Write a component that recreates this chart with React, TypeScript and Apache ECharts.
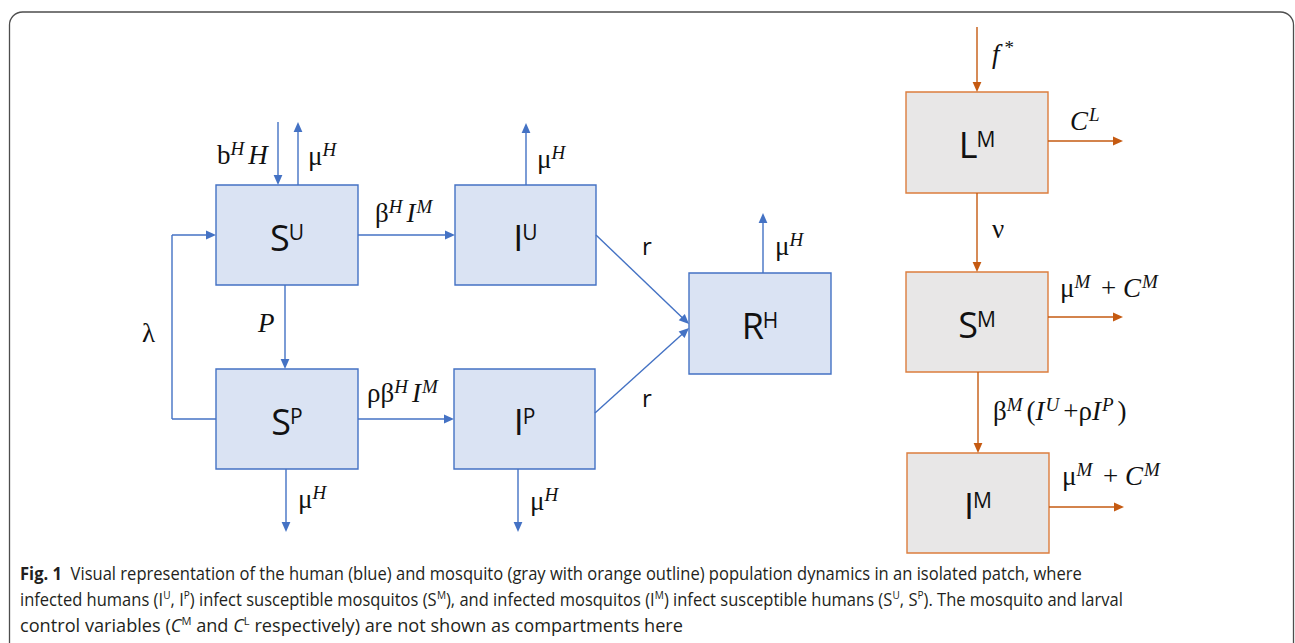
import React, { useEffect, useRef } from "react";
import * as echarts from "echarts";

// ---------------- Diagram data ----------------
// Compartments (boxes)
const compartmentNames = ["S", "I", "S", "I", "R", "L", "S", "I"];
const compartmentSups = ["U", "U", "P", "P", "H", "M", "M", "M"];
const compartmentKinds = ["human", "human", "human", "human", "human", "mosquito", "mosquito", "mosquito"];
// compartment extents in diagram units
const boxLeft = [216, 455, 216, 454, 689, 906, 906, 907];
const boxTop = [185, 185, 369, 369, 273, 92, 272, 453];
const boxRight = [358, 596, 358, 595, 831, 1048, 1048, 1049];
const boxBottom = [285, 285, 469, 469, 374, 193, 372, 553];

// Flows (arrow segments) in diagram units
const flowKinds = [
  "human", "human", "human", "human", "human", "human", "human", "human", "human", "human",
  "human", "human", "human", "human",
  "mosquito", "mosquito", "mosquito", "mosquito", "mosquito", "mosquito",
];
const flowFrom = [
  [278, 122], [298, 185], [358, 235], [526, 185], [216, 419], [172, 419], [172, 235],
  [285, 285], [358, 419], [286, 469], [518, 469], [596, 235], [595, 413], [763, 273],
  [977, 27], [1048, 141], [977, 193], [1048, 317], [978, 372], [1049, 507],
];
const flowTo = [
  [278, 185], [298, 122], [455, 235], [526, 123], [172, 419], [172, 235], [216, 235],
  [285, 369], [454, 419], [286, 532], [518, 532], [689, 324], [689, 328], [763, 213],
  [977, 92], [1123, 141], [977, 272], [1123, 317], [978, 453], [1124, 507],
];
const flowHead = [1, 1, 1, 1, 0, 0, 1, 1, 1, 1, 1, 1, 1, 1, 1, 1, 1, 1, 1, 1];

// Rate labels: tokens [text, kind]; r upright, i italic, j italic (wide kern), R upright sup, I italic sup, s sans
type Tok = [string, string];
const rateLabels: Tok[][] = [
  [["b", "r"], ["H", "I"], ["H", "i"]],
  [["μ", "r"], ["H", "I"]],
  [["β", "r"], ["H", "I"], ["I", "i"], ["M", "I"]],
  [["μ", "r"], ["H", "I"]],
  [["λ", "r"]],
  [["P", "i"]],
  [["ρβ", "r"], ["H", "I"], ["I", "i"], ["M", "I"]],
  [["μ", "r"], ["H", "I"]],
  [["μ", "r"], ["H", "I"]],
  [["r", "s"]],
  [["r", "s"]],
  [["μ", "r"], ["H", "I"]],
  [["f", "j"], ["*", "R"]],
  [["C", "i"], ["L", "I"]],
  [["ν", "r"]],
  [["μ", "r"], ["M", "I"], [" + ", "r"], ["C", "i"], ["M", "I"]],
  [["β", "r"], ["M", "I"], ["(", "r"], ["I", "i"], ["U", "I"], ["+ρ", "r"], ["I", "i"], ["P", "I"], [")", "r"]],
  [["μ", "r"], ["M", "I"], [" + ", "r"], ["C", "i"], ["M", "I"]],
];
// label anchor: left x, baseline y (diagram units)
const rateLabelAnchors = [
  [217, 164], [308, 165], [375, 222], [537, 168], [142, 342], [258, 332], [367, 402],
  [298, 508], [530, 510], [642, 255], [642, 407], [775, 255], [992, 63], [1070, 130],
  [992, 238], [1060, 297], [993, 420], [1062, 485],
];

// Caption
const captionLines: Tok[][] = [
  [["Fig. 1", "b"], ["  Visual representation of the human (blue) and mosquito (gray with orange outline) population dynamics in an isolated patch, where", "n"]],
  [
    ["infected humans (I", "n"], ["U", "S"], [", I", "n"], ["P", "S"], [") infect susceptible mosquitos (S", "n"], ["M", "S"],
    ["), and infected mosquitos (I", "n"], ["M", "S"], [") infect susceptible humans (S", "n"], ["U", "S"], [", S", "n"], ["P", "S"],
    ["). The mosquito and larval", "n"],
  ],
  [
    ["control variables (", "n"], ["C", "it"], ["M", "S"], [" and ", "n"], ["C", "it"], ["L", "S"],
    [" respectively) are not shown as compartments here", "n"],
  ],
];
const captionLineWidths = [1063, 1103, 663];

// ---------------- Styles ----------------
const COLORS: Record<string, { fill: string; stroke: string; arrow: string }> = {
  human: { fill: "#dae3f3", stroke: "#4472c4", arrow: "#4472c4" },
  mosquito: { fill: "#e8e7e7", stroke: "#dc7d3e", arrow: "#c55a11" },
};
const MATH = "Liberation Serif";
const SANS = "Open Sans";
const K: Record<string, number> = { [MATH]: 0.338, [SANS]: 0.388 };

type TS = { family: string; size: number; italic?: boolean; bold?: boolean; raise: number; after?: number };
const rateStyles: Record<string, TS> = {
  r: { family: MATH, size: 27, raise: 0 },
  i: { family: MATH, size: 27, italic: true, raise: 0, after: 1 },
  j: { family: MATH, size: 27, italic: true, raise: 0, after: 5 },
  R: { family: MATH, size: 19, raise: 9, after: 3 },
  I: { family: MATH, size: 19, italic: true, raise: 9, after: 4 },
  s: { family: SANS, size: 24, raise: 0 },
};
const boxStyles: Record<string, TS> = {
  m: { family: SANS, size: 36, raise: 0, after: -1 },
  p: { family: SANS, size: 21, raise: 11 },
};
const captionStyles: Record<string, TS> = {
  n: { family: SANS, size: 18, raise: 0 },
  b: { family: SANS, size: 18, bold: true, raise: 0 },
  it: { family: SANS, size: 18, italic: true, raise: 0 },
  S: { family: SANS, size: 11, raise: 7 },
};

let measureCtx: CanvasRenderingContext2D | null = null;
function fontString(st: TS) {
  return `${st.italic ? "italic " : ""}${st.bold ? "bold " : ""}${st.size}px "${st.family}"`;
}
function textWidth(text: string, st: TS) {
  if (!measureCtx) measureCtx = document.createElement("canvas").getContext("2d");
  measureCtx!.font = fontString(st);
  return measureCtx!.measureText(text).width;
}
function tokensWidth(tokens: Tok[], styles: Record<string, TS>) {
  let w = 0;
  tokens.forEach(([t, k], i) => {
    const st = styles[k];
    w += textWidth(t, st) + (i < tokens.length - 1 ? st.after || 0 : 0);
  });
  return w;
}
function layoutTokens(tokens: Tok[], styles: Record<string, TS>, x0: number, baseline: number, color: string) {
  let x = x0;
  const out: any[] = [];
  tokens.forEach(([t, k]) => {
    const st = styles[k];
    out.push({
      type: "text",
      x,
      y: baseline - st.raise - K[st.family] * st.size,
      silent: true,
      style: {
        text: t,
        fontFamily: st.family,
        fontSize: st.size,
        fontStyle: st.italic ? "italic" : "normal",
        fontWeight: st.bold ? "bold" : "normal",
        fill: color,
        align: "left",
        textAlign: "left",
        verticalAlign: "middle",
        textVerticalAlign: "middle",
      },
    });
    x += textWidth(t, st) + (st.after || 0);
  });
  return out;
}

export default function App() {
  const ref = useRef<HTMLDivElement>(null);
  useEffect(() => {
    document.body.style.margin = "0";
    const chart = echarts.init(ref.current!, null, { renderer: "svg" });

    const boxData = compartmentNames.map((_, i) => [boxLeft[i], boxTop[i], boxRight[i], boxBottom[i]]);
    const flowData = flowFrom.map((f, i) => [f[0], f[1], flowTo[i][0], flowTo[i][1], flowHead[i]]);
    const labelData = rateLabelAnchors.map((a) => [a[0], a[1]]);

    const captionGraphics: any[] = captionLines.map((line, li) => {
      const w = tokensWidth(line, captionStyles);
      const sx = captionLineWidths[li] / w;
      return {
        type: "group",
        x: 20,
        y: 580 + li * 26,
        scaleX: sx,
        silent: true,
        children: layoutTokens(line, captionStyles, 0, 0, "#231f20"),
      };
    });

    const option: any = {
      animation: false,
      backgroundColor: "#ffffff",
      grid: { left: 0, right: 0, top: 0, bottom: 0, containLabel: false },
      xAxis: { type: "value", min: 0, max: 1295, show: false },
      yAxis: { type: "value", min: 0, max: 643, inverse: true, show: false },
      tooltip: { show: false },
      graphic: [
        {
          type: "rect",
          silent: true,
          shape: { x: 9.5, y: 12, width: 1284, height: 720, r: 13 },
          style: { fill: "none", stroke: "#4d4d4d", lineWidth: 1.3 },
        },
        ...captionGraphics,
      ],
      series: [
        {
          type: "custom",
          name: "compartments",
          coordinateSystem: "cartesian2d",
          clip: false,
          silent: true,
          encode: { x: [0, 2], y: [1, 3] },
          data: boxData,
          renderItem: (params: any, api: any) => {
            const i = params.dataIndex;
            const p0 = api.coord([api.value(0), api.value(1)]);
            const p1 = api.coord([api.value(2), api.value(3)]);
            const c = COLORS[compartmentKinds[i]];
            const toks: Tok[] = [[compartmentNames[i], "m"], [compartmentSups[i], "p"]];
            const w = tokensWidth(toks, boxStyles);
            const cx = (p0[0] + p1[0]) / 2;
            const cy = (p0[1] + p1[1]) / 2;
            return {
              type: "group",
              children: [
                {
                  type: "rect",
                  shape: { x: p0[0], y: p0[1], width: p1[0] - p0[0], height: p1[1] - p0[1] },
                  style: { fill: c.fill, stroke: c.stroke, lineWidth: 1.4 },
                },
                ...layoutTokens(toks, boxStyles, cx - w / 2, cy + 16, "#111111"),
              ],
            };
          },
        },
        {
          type: "custom",
          name: "flows",
          coordinateSystem: "cartesian2d",
          clip: false,
          silent: true,
          encode: { x: [0, 2], y: [1, 3] },
          data: flowData,
          renderItem: (params: any, api: any) => {
            const i = params.dataIndex;
            const a = api.coord([api.value(0), api.value(1)]);
            const b = api.coord([api.value(2), api.value(3)]);
            const head = api.value(4) === 1;
            const color = COLORS[flowKinds[i]].arrow;
            const dx = b[0] - a[0];
            const dy = b[1] - a[1];
            const len = Math.hypot(dx, dy) || 1;
            const ux = dx / len;
            const uy = dy / len;
            const L = 10;
            const hw = 4.4;
            const endX = head ? b[0] - ux * L * 0.7 : b[0];
            const endY = head ? b[1] - uy * L * 0.7 : b[1];
            const children: any[] = [
              {
                type: "line",
                shape: { x1: a[0], y1: a[1], x2: endX, y2: endY },
                style: { stroke: color, lineWidth: 1.4 },
              },
            ];
            if (head) {
              const bx = b[0] - ux * L;
              const by = b[1] - uy * L;
              children.push({
                type: "polygon",
                shape: {
                  points: [
                    [b[0], b[1]],
                    [bx - uy * hw, by + ux * hw],
                    [bx + uy * hw, by - ux * hw],
                  ],
                },
                style: { fill: color },
              });
            }
            return { type: "group", children };
          },
        },
        {
          type: "custom",
          name: "rates",
          coordinateSystem: "cartesian2d",
          clip: false,
          silent: true,
          encode: { x: 0, y: 1 },
          data: labelData,
          renderItem: (params: any, api: any) => {
            const i = params.dataIndex;
            const p = api.coord([api.value(0), api.value(1)]);
            return {
              type: "group",
              children: layoutTokens(rateLabels[i], rateStyles, p[0], p[1], "#111111"),
            };
          },
        },
      ],
    };
    chart.setOption(option);
    return () => chart.dispose();
  }, []);
  return (
    <div
      ref={ref}
      style={{ position: "absolute", left: 0, top: 0, width: 1295, height: 643, background: "#ffffff" }}
    />
  );
}
